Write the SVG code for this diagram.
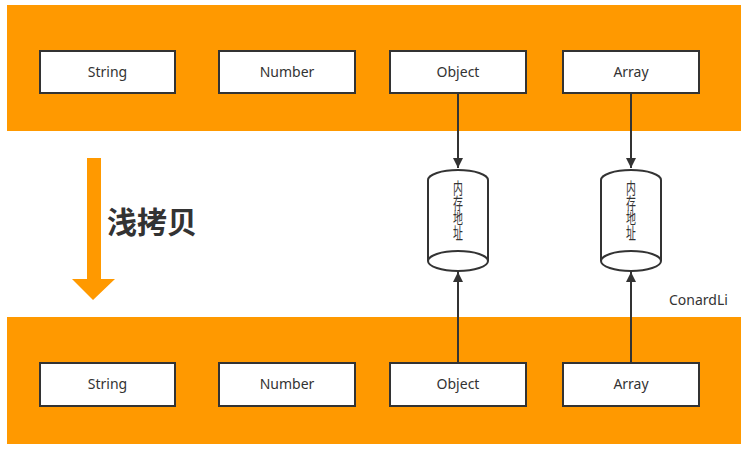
<svg xmlns="http://www.w3.org/2000/svg" width="748" height="450" viewBox="0 0 748 450">
<defs>
<style>
.band{fill:#FF9900;}
.box{fill:#fff;stroke:#333;stroke-width:2;}
.lbl{font-family:"Noto Sans","Open Sans","Liberation Sans",sans-serif;font-size:14px;fill:#333;text-anchor:middle;}
.cyl{fill:#fff;stroke:#333;stroke-width:2;}
.conn{stroke:#333;stroke-width:2;fill:none;}
.vt{font-family:"Noto Sans CJK SC","Noto Sans",sans-serif;font-size:16px;letter-spacing:-1px;fill:#333;writing-mode:vertical-rl;text-orientation:upright;}
</style>
<marker id="ah" viewBox="0 0 10 10" refX="10" refY="5" markerWidth="5" markerHeight="5" orient="auto" markerUnits="strokeWidth">
<path d="M0,0 L10,5 L0,10 Z" fill="#333"/>
</marker>
</defs>
<rect width="748" height="450" fill="#fff"/>
<rect id="top-band" class="band" x="7" y="5" width="734" height="126"/>
<rect id="bottom-band" class="band" x="7" y="317" width="734" height="127"/>

<g id="connectors">
<line class="conn" x1="458" y1="93" x2="458" y2="168" marker-end="url(#ah)"/>
<line class="conn" x1="631" y1="93" x2="631" y2="168" marker-end="url(#ah)"/>
<line class="conn" x1="458" y1="362" x2="458" y2="272" marker-end="url(#ah)"/>
<line class="conn" x1="631" y1="362" x2="631" y2="272" marker-end="url(#ah)"/>
</g>

<g id="top-string"><rect class="box" x="40" y="51" width="135" height="42"/><text class="lbl" x="107.5" y="77">String</text></g>
<g id="top-number"><rect class="box" x="219" y="51" width="136" height="42"/><text class="lbl" x="287" y="77">Number</text></g>
<g id="top-object"><rect class="box" x="390" y="51" width="136" height="42"/><text class="lbl" x="458" y="77">Object</text></g>
<g id="top-array"><rect class="box" x="563" y="51" width="136" height="42"/><text class="lbl" x="631" y="77">Array</text></g>

<g id="bottom-string"><rect class="box" x="40" y="363" width="135" height="43"/><text class="lbl" x="107.5" y="389">String</text></g>
<g id="bottom-number"><rect class="box" x="219" y="363" width="136" height="43"/><text class="lbl" x="287" y="389">Number</text></g>
<g id="bottom-object"><rect class="box" x="390" y="363" width="136" height="43"/><text class="lbl" x="458" y="389">Object</text></g>
<g id="bottom-array"><rect class="box" x="563" y="363" width="136" height="43"/><text class="lbl" x="631" y="389">Array</text></g>

<g id="mem-object">
<path class="cyl" d="M428,180 A30,10 0 0 1 488,180 L488,261 A30,10 0 0 1 428,261 Z"/>
<path class="cyl" d="M428,261 A30,10 0 0 1 488,261"/>
<text class="vt" x="458" y="180" transform="translate(458,0) scale(0.62,1) translate(-458,0)">内存地址</text>
</g>
<g id="mem-array">
<path class="cyl" d="M601,180 A30,10 0 0 1 661,180 L661,261 A30,10 0 0 1 601,261 Z"/>
<path class="cyl" d="M601,261 A30,10 0 0 1 661,261"/>
<text class="vt" x="631" y="180" transform="translate(631,0) scale(0.62,1) translate(-631,0)">内存地址</text>
</g>

<g id="copy-arrow">
<polygon points="87,158 101,158 101,279 115,279 93,300 72,279 87,279" fill="#FF9900"/>
</g>
<text id="title" x="107" y="233" font-family="'Noto Sans CJK SC',sans-serif" font-size="30" font-weight="bold" fill="#333">浅拷贝</text>
<text id="watermark" x="669" y="305" font-family="'Noto Sans','Open Sans',sans-serif" font-size="14" fill="#333">ConardLi</text>
</svg>
